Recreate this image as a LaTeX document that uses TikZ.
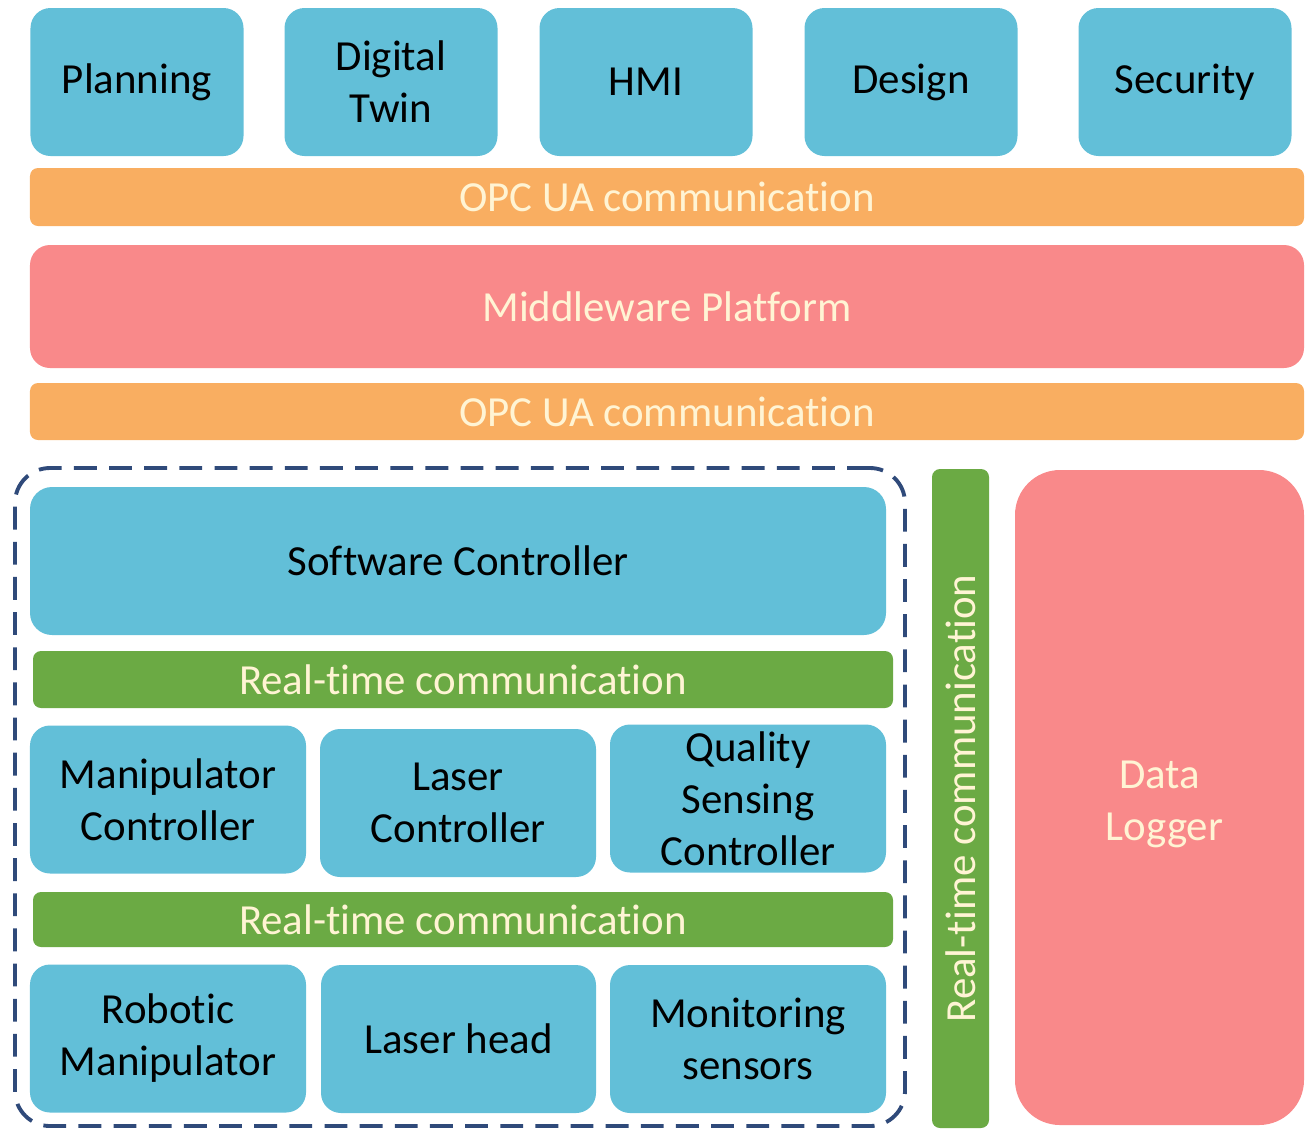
\documentclass[tikz,border=0pt]{standalone}
\usepackage{fontspec}
\setmainfont{Carlito}[Ligatures={NoCommon}]
\usepackage{xcolor}
\usepackage{tikz}
\usetikzlibrary{positioning}

\definecolor{boxblue}{HTML}{62BFD8}
\definecolor{opcorange}{HTML}{F9AE61}
\definecolor{mwpink}{HTML}{F9898A}
\definecolor{rtgreen}{HTML}{6BAA44}
\definecolor{grpblue}{HTML}{2F4A7A}
\definecolor{lighttext}{HTML}{FFF4D4}

\begin{document}
\begin{tikzpicture}[
  blk/.style={fill=boxblue, rounded corners=0.2cm, minimum width=#1, minimum height=1.48cm,
              inner sep=0pt, align=center, text=black},
  bar/.style={fill=#1, rounded corners=0.08cm, inner sep=0pt, text=lighttext},
  group/.style={draw=grpblue, line width=1.1pt, dash pattern=on 6.5pt off 3.5pt,
                rounded corners=0.35cm, minimum width=8.9cm, minimum height=6.58cm},
  font=\fontsize{12.2}{14.8}\selectfont
]
  \useasboundingbox (0,0) rectangle (13.11,-11.28);

  % Applications
  \node[blk=2.13cm] (planning) at (1.37,-0.82) {Planning};
  \node[blk=2.13cm] (twin) at (3.91,-0.82) {Digital\\Twin};
  \node[blk=2.13cm] (hmi) at (6.46,-0.82) {HMI};
  \node[blk=2.13cm] (design) at (9.11,-0.82) {Design};
  \node[blk=2.13cm] (security) at (11.85,-0.82) {Security};

  % Middleware layer
  \node[bar=opcorange, minimum width=12.74cm, minimum height=0.58cm] (opctop) at (6.67,-1.97) {OPC UA communication};
  \node[bar=mwpink, rounded corners=0.2cm, minimum width=12.74cm, minimum height=1.23cm] (middleware) at (6.67,-3.065) {Middleware Platform};
  \node[bar=opcorange, minimum width=12.74cm, minimum height=0.57cm] (opcbottom) at (6.67,-4.115) {OPC UA communication};

  % Control group
  \node[group] (ctrlgroup) at (4.6,-7.97) {};
  \node[blk=8.56cm, rounded corners=0.22cm] (software) at (4.58,-5.61) {Software Controller};
  \node[bar=rtgreen, minimum width=8.6cm, minimum height=0.57cm] (rtone) at (4.63,-6.795) {Real-time communication};
  \node[blk=2.76cm] (manipctrl) at (1.68,-7.995) {Manipulator\\Controller};
  \node[blk=2.76cm] (laserctrl) at (4.58,-8.03) {Laser\\Controller};
  \node[blk=2.76cm] (qualityctrl) at (7.48,-7.985) {Quality\\Sensing\\Controller};
  \node[bar=rtgreen, minimum width=8.6cm, minimum height=0.55cm] (rttwo) at (4.63,-9.195) {Real-time communication};
  \node[blk=2.76cm] (robot) at (1.68,-10.385) {Robotic\\Manipulator};
  \node[blk=2.75cm] (laserhead) at (4.585,-10.39) {Laser head};
  \node[blk=2.76cm] (sensors) at (7.48,-10.39) {Monitoring\\sensors};

  % Side column
  \node[bar=rtgreen, rotate=90, minimum width=6.59cm, minimum height=0.57cm] (rtside) at (9.605,-7.985) {Real-time communication};
  \node[bar=mwpink, rounded corners=0.45cm, minimum width=2.89cm, minimum height=6.55cm] (logger) at (11.595,-7.975) {};
  \node[text=lighttext, align=center] (loggertext) at ([yshift=-0.07cm]logger.center) {Data\\\hspace*{0.1cm}Logger};
\end{tikzpicture}
\end{document}
